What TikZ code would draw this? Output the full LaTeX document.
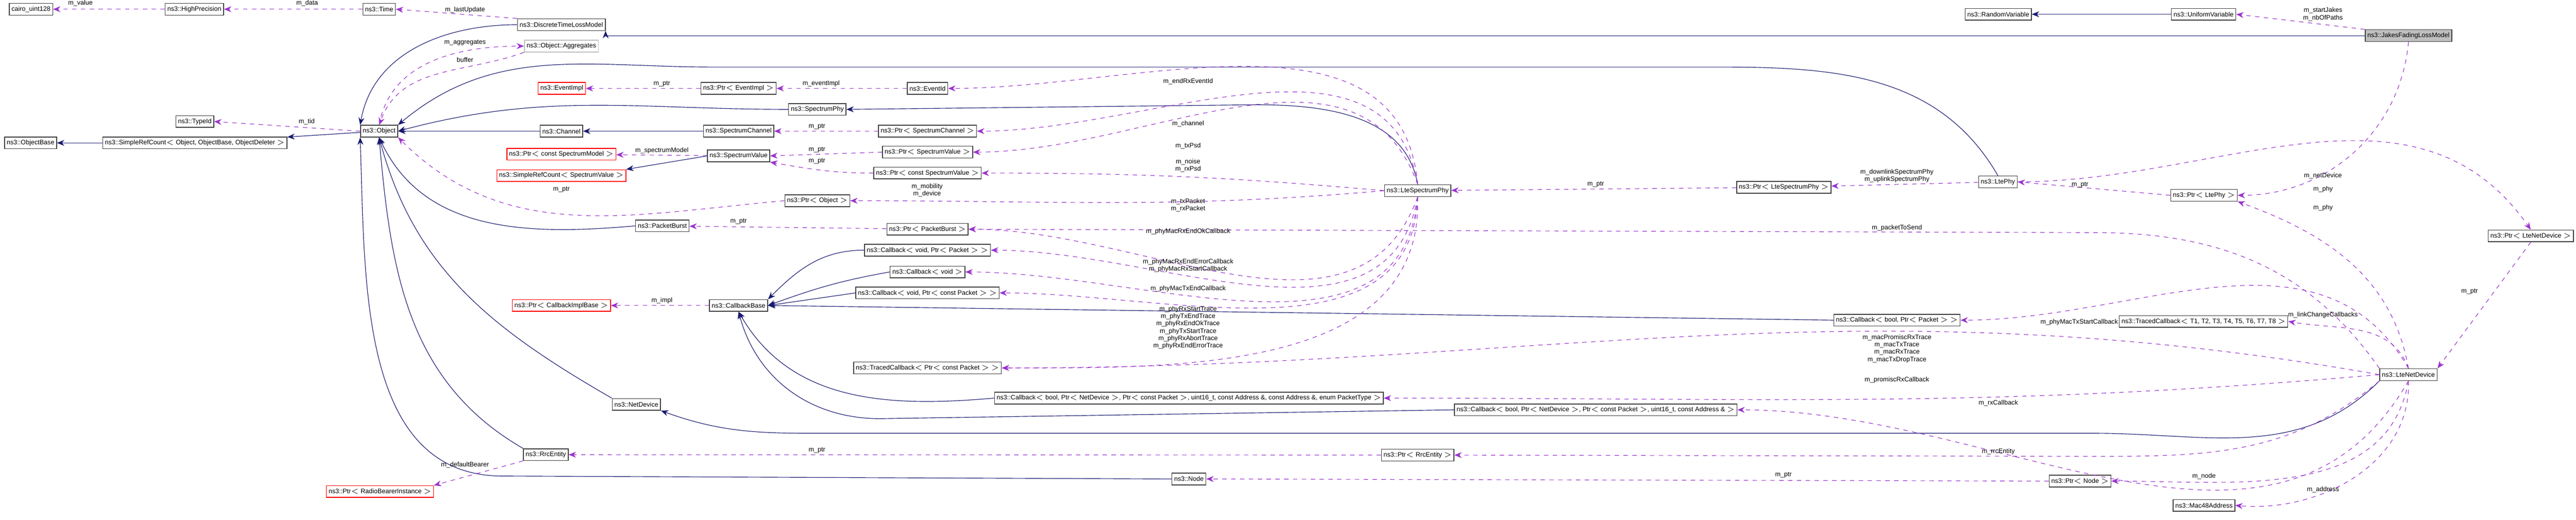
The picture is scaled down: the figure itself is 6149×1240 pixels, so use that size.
\documentclass[tikz,border=0pt]{standalone}
\usepackage{fontspec}
\setmainfont{Liberation Sans}
\usetikzlibrary{arrows.meta}
\definecolor{inh}{HTML}{191970}
\definecolor{use}{HTML}{9A32CD}
\tikzset{
  cls/.style={draw=black!75, fill=white, line width=0.5pt, inner sep=1.5pt, minimum height=0.28cm, font=\fontsize{4.4}{5}\selectfont},
  undoc/.style={cls, draw=red},
  gray/.style={cls, draw=black!25},
  lbl/.style={font=\fontsize{4.4}{5}\selectfont, align=center, inner sep=0pt},
  isa/.style={draw=inh, line width=0.4pt, -{Stealth[length=5pt,width=4pt]}},
  has/.style={draw=use, dashed, line width=0.4pt, -{Stealth[length=5pt,width=4pt]}}
}
\begin{document}
\begin{tikzpicture}[x=0.01cm, y=-0.01cm]
  \useasboundingbox (0,0) rectangle (6149,1240);

  % top row
  \node[cls] (cairo) at (74,22) {cairo\_uint128};
  \node[cls] (hp) at (464,22) {ns3::HighPrecision};
  \node[cls] (time) at (905,22) {ns3::Time};
  \node[cls] (dtlm) at (1340,59) {ns3::DiscreteTimeLossModel};
  \node[gray] (aggr) at (1340,110) {ns3::Object::Aggregates};
  \node[cls] (randvar) at (4770,34) {ns3::RandomVariable};
  \node[cls] (unifvar) at (5260,34) {ns3::UniformVariable};
  \node[cls, fill=black!25] (jakes) at (5749,85) {ns3::JakesFadingLossModel};

  % object column
  \node[cls] (typeid) at (465,290) {ns3::TypeId};
  \node[cls] (objbase) at (73,341) {ns3::ObjectBase};
  \node[cls] (srcobj) at (465,341) {ns3::SimpleRefCount$<$ Object, ObjectBase, ObjectDeleter $>$};
  \node[cls] (obj) at (905,313) {ns3::Object};

  % spectrum part
  \node[undoc] (eimpl) at (1341,211) {ns3::EventImpl};
  \node[cls] (peimpl) at (1763,211) {ns3::Ptr$<$ EventImpl $>$};
  \node[cls] (evid) at (2214,211) {ns3::EventId};
  \node[cls] (sphy) at (1951,261) {ns3::SpectrumPhy};
  \node[cls] (chan) at (1340,313) {ns3::Channel};
  \node[cls] (schan) at (1763,313) {ns3::SpectrumChannel};
  \node[cls] (pschan) at (2214,313) {ns3::Ptr$<$ SpectrumChannel $>$};
  \node[undoc] (psmodel) at (1340,368) {ns3::Ptr$<$ const SpectrumModel $>$};
  \node[cls] (sval) at (1763,372) {ns3::SpectrumValue};
  \node[undoc] (srcsval) at (1340,419) {ns3::SimpleRefCount$<$ SpectrumValue $>$};
  \node[cls] (psval) at (2214,363) {ns3::Ptr$<$ SpectrumValue $>$};
  \node[cls] (pcsval) at (2214,413) {ns3::Ptr$<$ const SpectrumValue $>$};
  \node[cls] (pobj) at (1951,479) {ns3::Ptr$<$ Object $>$};
  \node[cls] (pburst) at (1581,539) {ns3::PacketBurst};
  \node[cls] (ppburst) at (2214,547) {ns3::Ptr$<$ PacketBurst $>$};

  % callbacks
  \node[cls] (cbvp) at (2214,597) {ns3::Callback$<$ void, Ptr$<$ Packet $>$ $>$};
  \node[cls] (cbv) at (2214,649) {ns3::Callback$<$ void $>$};
  \node[cls] (cbvcp) at (2214,699) {ns3::Callback$<$ void, Ptr$<$ const Packet $>$ $>$};
  \node[cls] (cbase) at (1763,729) {ns3::CallbackBase};
  \node[undoc] (pcbimpl) at (1340,729) {ns3::Ptr$<$ CallbackImplBase $>$};
  \node[cls] (tcb) at (2214,878) {ns3::TracedCallback$<$ Ptr$<$ const Packet $>$ $>$};
  \node[cls] (cbpt) at (2838,950) {ns3::Callback$<$ bool, Ptr$<$ NetDevice $>$, Ptr$<$ const Packet $>$, uint16\_t, const Address \&, const Address \&, enum PacketType $>$};
  \node[cls] (cbaddr) at (3809,978) {ns3::Callback$<$ bool, Ptr$<$ NetDevice $>$, Ptr$<$ const Packet $>$, uint16\_t, const Address \& $>$};
  \node[cls] (cbbp) at (4528,764) {ns3::Callback$<$ bool, Ptr$<$ Packet $>$ $>$};
  \node[cls] (tcb8) at (5260,767) {ns3::TracedCallback$<$ T1, T2, T3, T4, T5, T6, T7, T8 $>$};

  % lower part
  \node[cls] (netdev) at (1519,965) {ns3::NetDevice};
  \node[cls] (rrc) at (1303,1085) {ns3::RrcEntity};
  \node[undoc] (prbi) at (907,1173) {ns3::Ptr$<$ RadioBearerInstance $>$};
  \node[cls] (prrc) at (3384,1086) {ns3::Ptr$<$ RrcEntity $>$};
  \node[cls] (node) at (2838,1143) {ns3::Node};
  \node[cls] (pnode) at (4965,1148) {ns3::Ptr$<$ Node $>$};
  \node[cls] (mac) at (5261,1206) {ns3::Mac48Address};

  % lte part
  \node[cls] (lsphy) at (3384,455) {ns3::LteSpectrumPhy};
  \node[cls] (plsphy) at (4258,447) {ns3::Ptr$<$ LteSpectrumPhy $>$};
  \node[cls] (ltephy) at (4769,434) {ns3::LtePhy};
  \node[cls] (pltephy) at (5261,466) {ns3::Ptr$<$ LtePhy $>$};
  \node[cls] (plnd) at (6041,563) {ns3::Ptr$<$ LteNetDevice $>$};
  \node[cls] (lnd) at (5749,894) {ns3::LteNetDevice};

  % inheritance
  \draw[isa] (srcobj) -- (objbase);
  \draw[isa] (obj) -- (srcobj);
  \draw[isa] (unifvar) -- (randvar);
  \draw[isa] (jakes.west) -- (dtlm.east |- jakes.west) -- (dtlm.south east);
  \draw[isa] (dtlm.west) to[out=180,in=80] (obj.north west);
  \draw[isa] (ltephy.north) to[out=120,in=0] (4100,160) -- (1700,160) to[out=180,in=40] (obj.north east);
  \draw[isa] (sphy.west) to[out=180,in=15] (obj.east);
  \draw[isa] (schan) -- (chan);
  \draw[isa] (chan) -- (obj);
  \draw[isa] (sval.west) -- (srcsval.north east);
  \draw[isa] (pburst.west) to[out=185,in=-65] (obj.south);
  \draw[isa] (netdev.north west) to[out=150,in=-75] (obj.south);
  \draw[isa] (rrc.north west) to[out=150,in=-85] (obj.south);
  \draw[isa] (node.west) -- (1200,1136) to[out=180,in=-88] (obj.south west);
  \draw[isa] (lsphy.north) to[out=100,in=0] (3000,250) -- (sphy.east);
  \draw[isa] (cbvp.west) to[out=180,in=45] (cbase.north east);
  \draw[isa] (cbv.west) to[out=190,in=20] (cbase.east);
  \draw[isa] (cbvcp.west) -- (cbase.east);
  \draw[isa] (cbbp.west) -- (cbase.east);
  \draw[isa] (cbpt.west) to[out=185,in=-60] (cbase.south);
  \draw[isa] (cbaddr.west) -- (2100,999) to[out=180,in=-75] (cbase.south);
  \draw[isa] (lnd.south west) to[out=-135,in=0] (5000,1034) -- (2000,1034) to[out=180,in=-20] (netdev.south east);

  % usage
  \draw[has] (hp) -- (cairo);
  \draw[has] (time) -- (hp);
  \draw[has] (dtlm.north west) -- (time.east);
  \draw[has] (obj.north) to[out=80,in=180] (aggr.west);
  \draw[has] (aggr.south west) to[out=200,in=70] (obj.north);
  \draw[has] (obj.west) -- (typeid.east);
  \draw[has] (jakes.north west) -- (unifvar.east);
  \draw[has] (peimpl) -- (eimpl);
  \draw[has] (evid) -- (peimpl);
  \draw[has] (pschan) -- (schan);
  \draw[has] (sval) -- (psmodel);
  \draw[has] (psval.west) -- (sval.east);
  \draw[has] (pcsval.west) to[out=180,in=-10] (sval.south east);
  \draw[has] (pobj.west) to[out=185,in=-45] (obj.south east);
  \draw[has] (ppburst) -- (pburst);
  \draw[has] (cbase) -- (pcbimpl);
  \draw[has] (rrc.south west) -- (prbi.north east);
  \draw[has] (prrc) -- (rrc);
  \draw[has] (pnode.west) -- (node.east);
  \draw[has] (plsphy) -- (lsphy);
  \draw[has] (ltephy) -- (plsphy);
  \draw[has] (pltephy.west) -- (ltephy.east);
  \draw[has] (ltephy.east) to[out=0,in=125] (plnd.north);
  \draw[has] (jakes.south) to[out=-95,in=0] (pltephy.east);
  \draw[has] (lnd.north) to[out=100,in=-20] (pltephy.south east);
  \draw[has] (plnd.south) -- (lnd.north east);

  % lte spectrum phy members
  \draw[has] (lsphy.north) to[out=95,in=0] (evid.east);
  \draw[has] (lsphy.north) to[out=100,in=0] (pschan.east);
  \draw[has] (lsphy.north) to[out=110,in=0] (psval.east);
  \draw[has] (lsphy.west) to[out=175,in=0] (pcsval.east);
  \draw[has] (lsphy.west) to[out=185,in=0] (pobj.east);
  \draw[has] (lsphy.south) to[out=-110,in=0] (ppburst.east);
  \draw[has] (lsphy.south) to[out=-100,in=0] (cbvp.east);
  \draw[has] (lsphy.south) to[out=-95,in=0] (cbv.east);
  \draw[has] (lsphy.south) to[out=-92,in=0] (cbvcp.east);
  \draw[has] (lsphy.south) to[out=-88,in=0] (tcb.east);

  % lte net device members
  \draw[has] (lnd.north) to[out=110,in=-10] (tcb8.east);
  \draw[has] (lnd.north) to[out=120,in=0] (cbbp.east);
  \draw[has] (lnd.west) to[out=170,in=0] (tcb.east);
  \draw[has] (lnd.north west) to[out=125,in=0] (5000,555) -- (ppburst.east);
  \draw[has] (lnd.west) to[out=185,in=0] (cbpt.east);
  \draw[has] (lnd.south) to[out=-120,in=0] (cbaddr.east);
  \draw[has] (lnd.south west) to[out=-140,in=0] (5000,1089) -- (prrc.east);
  \draw[has] (lnd.south) to[out=-100,in=0] (pnode.east);
  \draw[has] (lnd.south) to[out=-88,in=-5] (mac.east);

  % labels
  \node[lbl] (lvalue) at (192,8) {m\_value};
  \node[lbl] (ldata) at (733,8) {m\_data};
  \node[lbl] (llast) at (1110,24) {m\_lastUpdate};
  \node[lbl] (laggr) at (1110,102) {m\_aggregates};
  \node[lbl] (lbuf) at (1110,143) {buffer};
  \node[lbl] (ltid) at (732,290) {m\_tid};
  \node[lbl] (ljakes) at (5545,34) {m\_startJakes\\m\_nbOfPaths};
  \node[lbl] (leimpl) at (1580,200) {m\_ptr};
  \node[lbl] (levimpl) at (1960,200) {m\_eventImpl};
  \node[lbl] (lendrx) at (2836,194) {m\_endRxEventId};
  \node[lbl] (lpchan) at (1950,302) {m\_ptr};
  \node[lbl] (lchan) at (2836,296) {m\_channel};
  \node[lbl] (lsmodel) at (1580,360) {m\_spectrumModel};
  \node[lbl] (lpsval) at (1950,357) {m\_ptr};
  \node[lbl] (ltxpsd) at (2836,348) {m\_txPsd};
  \node[lbl] (lpcsval) at (1950,384) {m\_ptr};
  \node[lbl] (lnoise) at (2836,395) {m\_noise\\m\_rxPsd};
  \node[lbl] (lpobj) at (1340,452) {m\_ptr};
  \node[lbl] (lmob) at (2213,454) {m\_mobility\\m\_device};
  \node[lbl] (lppb) at (1763,528) {m\_ptr};
  \node[lbl] (ltxpk) at (2836,490) {m\_txPacket\\m\_rxPacket};
  \node[lbl] (lrxok) at (2836,552) {m\_phyMacRxEndOkCallback};
  \node[lbl] (lrxerr) at (2836,634) {m\_phyMacRxEndErrorCallback\\m\_phyMacRxStartCallback};
  \node[lbl] (ltxend) at (2836,689) {m\_phyMacTxEndCallback};
  \node[lbl] (limpl) at (1580,717) {m\_impl};
  \node[lbl] (ltraces) at (2836,782) {m\_phyRxStartTrace\\m\_phyTxEndTrace\\m\_phyRxEndOkTrace\\m\_phyTxStartTrace\\m\_phyRxAbortTrace\\m\_phyRxEndErrorTrace};
  \node[lbl] (lplsphy) at (3809,440) {m\_ptr};
  \node[lbl] (lspphy) at (4528,420) {m\_downlinkSpectrumPhy\\m\_uplinkSpectrumPhy};
  \node[lbl] (lpltephy) at (4965,441) {m\_ptr};
  \node[lbl] (lnetdev) at (5545,420) {m\_netDevice};
  \node[lbl] (lphya) at (5545,452) {m\_phy};
  \node[lbl] (lphyb) at (5545,496) {m\_phy};
  \node[lbl] (lpts) at (4528,544) {m\_packetToSend};
  \node[lbl] (lplnd) at (5895,696) {m\_ptr};
  \node[lbl] (llink) at (5545,752) {m\_linkChangeCallbacks};
  \node[lbl] (ltxstart) at (4963,769) {m\_phyMacTxStartCallback};
  \node[lbl] (lmac) at (4528,832) {m\_macPromiscRxTrace\\m\_macTxTrace\\m\_macRxTrace\\m\_macTxDropTrace};
  \node[lbl] (lpromisc) at (4528,907) {m\_promiscRxCallback};
  \node[lbl] (lrxcb) at (4770,962) {m\_rxCallback};
  \node[lbl] (lrrc) at (4770,1078) {m\_rrcEntity};
  \node[lbl] (lprrc) at (1950,1074) {m\_ptr};
  \node[lbl] (lbearer) at (1110,1109) {m\_defaultBearer};
  \node[lbl] (lpnode) at (4257,1134) {m\_ptr};
  \node[lbl] (lnode) at (5261,1137) {m\_node};
  \node[lbl] (laddr) at (5545,1169) {m\_address};
\end{tikzpicture}
\end{document}
